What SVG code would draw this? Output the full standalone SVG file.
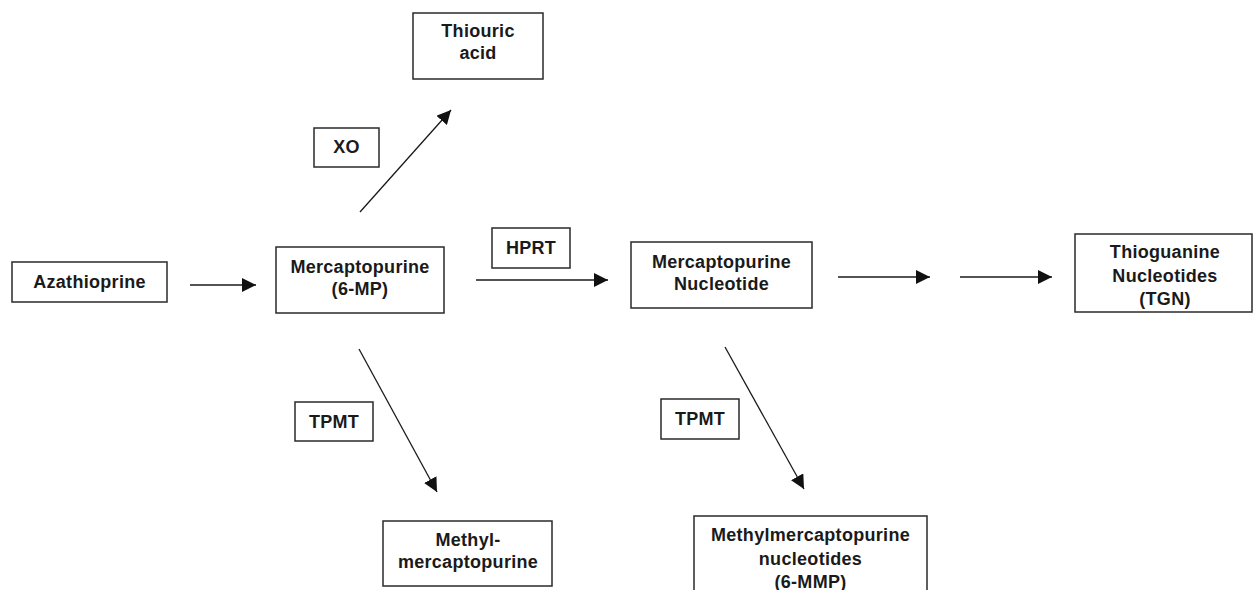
<svg xmlns="http://www.w3.org/2000/svg" width="1253" height="590" viewBox="0 0 1253 590">
<defs>
<style>
.box{fill:#fff;stroke:#2a2a2a;stroke-width:1.5}
.t{font-family:"Liberation Sans",Arial,sans-serif;font-weight:bold;font-size:18px;fill:#1a1a1a;text-anchor:middle;letter-spacing:0.3px}
.c{stroke:#1a1a1a;stroke-width:1.3;fill:none;marker-end:url(#ah)}
</style>
<marker id="ah" markerUnits="userSpaceOnUse" markerWidth="15" markerHeight="14" refX="14" refY="7" orient="auto">
<path d="M0,0 L14,7 L0,14 z" fill="#111"/>
</marker>
</defs>
<rect width="1253" height="590" fill="#fff"/>
<g id="connectors">
<line class="c" x1="190" y1="285" x2="256" y2="285"/>
<line class="c" x1="360" y1="212" x2="451" y2="110"/>
<line class="c" x1="476" y1="280" x2="608" y2="280"/>
<line class="c" x1="838" y1="277" x2="930" y2="277"/>
<line class="c" x1="960" y1="277" x2="1052" y2="277"/>
<line class="c" x1="359" y1="349" x2="437" y2="492"/>
<line class="c" x1="725" y1="347" x2="804" y2="489"/>
</g>
<g id="azathioprine">
<rect class="box" x="12" y="262" width="155" height="40"/>
<text class="t" x="89.5" y="288">Azathioprine</text>
</g>
<g id="mercaptopurine">
<rect class="box" x="276" y="247" width="168" height="66"/>
<text class="t" x="360" y="273">Mercaptopurine</text>
<text class="t" x="360" y="295">(6-MP)</text>
</g>
<g id="thiouric-acid">
<rect class="box" x="413" y="13" width="130" height="66"/>
<text class="t" x="478" y="37">Thiouric</text>
<text class="t" x="478" y="59">acid</text>
</g>
<g id="xo">
<rect class="box" x="314" y="128" width="65" height="39"/>
<text class="t" x="346.5" y="153">XO</text>
</g>
<g id="hprt">
<rect class="box" x="492" y="228" width="78" height="40"/>
<text class="t" x="531" y="254">HPRT</text>
</g>
<g id="mp-nucleotide">
<rect class="box" x="631" y="242" width="181" height="66"/>
<text class="t" x="721.5" y="268">Mercaptopurine</text>
<text class="t" x="721.5" y="290">Nucleotide</text>
</g>
<g id="tgn">
<rect class="box" x="1075" y="234" width="177" height="78"/>
<text class="t" x="1165" y="258">Thioguanine</text>
<text class="t" x="1165" y="282">Nucleotides</text>
<text class="t" x="1165" y="305">(TGN)</text>
</g>
<g id="tpmt-left">
<rect class="box" x="295" y="402" width="78" height="39"/>
<text class="t" x="334" y="428">TPMT</text>
</g>
<g id="methyl-mercaptopurine">
<rect class="box" x="383" y="521" width="169" height="65"/>
<text class="t" x="468" y="546">Methyl-</text>
<text class="t" x="468" y="568">mercaptopurine</text>
</g>
<g id="tpmt-right">
<rect class="box" x="661" y="399" width="78" height="40"/>
<text class="t" x="700" y="425">TPMT</text>
</g>
<g id="methylmercaptopurine-nucleotides">
<rect class="box" x="694" y="516" width="233" height="80"/>
<text class="t" x="810.5" y="541">Methylmercaptopurine</text>
<text class="t" x="810.5" y="565">nucleotides</text>
<text class="t" x="810.5" y="588">(6-MMP)</text>
</g>
</svg>
